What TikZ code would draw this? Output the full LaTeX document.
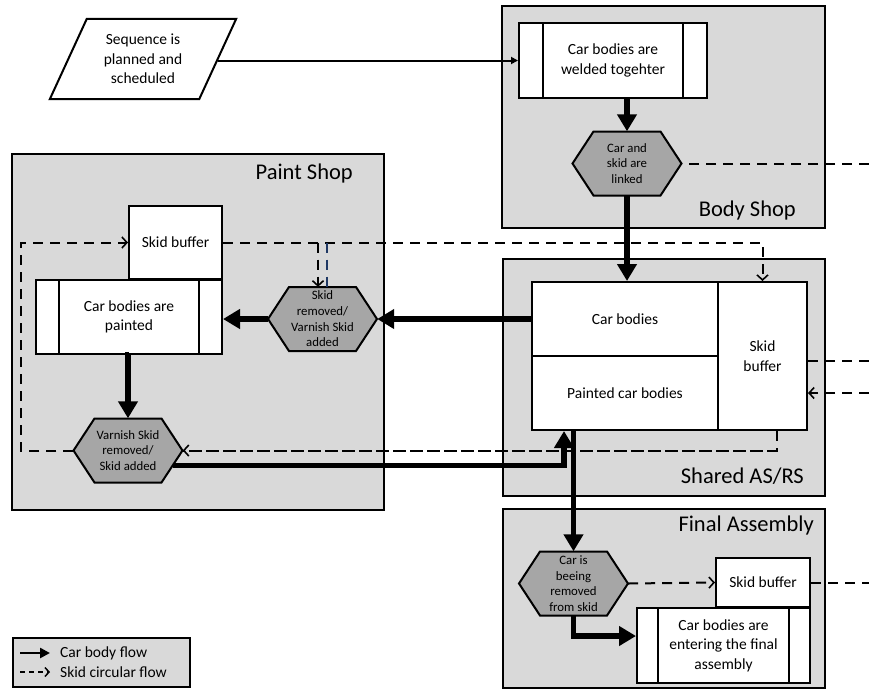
\documentclass[tikz,border=0pt]{standalone}
\usepackage{fontspec}
\setmainfont{Carlito}
\usetikzlibrary{arrows.meta,calc}
\definecolor{areagray}{HTML}{D9D9D9}
\definecolor{hexgray}{HTML}{A6A6A6}
\definecolor{navyline}{HTML}{1F3864}
\newcommand\hexnode[4]{%
  \filldraw[hexshape] ({#2-54.5},{#3}) -- ({#2-33.5},{#3-32}) -- ({#2+33.5},{#3-32})
    -- ({#2+54.5},{#3}) -- ({#2+33.5},{#3+32}) -- ({#2-33.5},{#3+32}) -- cycle;
  \node[hexbox] (#1) at (#2,#3) {#4};}
\tikzset{
  area/.style={draw=black, line width=2, fill=areagray, inner sep=0},
  areatitle/.style={anchor=east, inner sep=0, font=\fontsize{22.5}{26}\selectfont},
  plainbox/.style={draw=black, line width=2, fill=white, inner sep=1, align=center,
    font=\fontsize{15.5}{19.5}\selectfont},
  procbox/.style={plainbox, path picture={
    \draw[line width=2] ([xshift=#1]path picture bounding box.north west) -- ([xshift=#1]path picture bounding box.south west);
    \draw[line width=2] ([xshift=-#1]path picture bounding box.north east) -- ([xshift=-#1]path picture bounding box.south east);}},
  hexshape/.style={draw=black, line width=2, fill=hexgray},
  hexbox/.style={minimum width=109, minimum height=64, inner sep=0, align=center,
    font=\fontsize{12.8}{15.7}\selectfont},
  carflow/.style={line width=5.5, -{Triangle[length=17,width=19]}},
  thinflow/.style={line width=2, -{Triangle[length=7,width=7]}},
  skidline/.style={line width=2, dash pattern=on 10 off 7},
  skidflow/.style={skidline, -{Straight Barb[length=5,width=11,line width=1.6]}},
  blueline/.style={line width=2, dash pattern=on 10 off 7, draw=navyline},
  legtext/.style={anchor=west, inner sep=0, font=\fontsize{15.5}{19}\selectfont},
}
\begin{document}
\begin{tikzpicture}[x=1pt, y=-1pt]
\useasboundingbox (0,0) rectangle (869,689);

% areas
\node[area, minimum width=323, minimum height=222] (bodyshop) at (663.5,117) {};
\node[area, minimum width=372, minimum height=356] (paintshop) at (198,332) {};
\node[area, minimum width=322, minimum height=237] (asrs) at (664,377.5) {};
\node[area, minimum width=322, minimum height=179] (finalasm) at (664,598.5) {};
\node[area, minimum width=177, minimum height=49] (legend) at (101.5,662.5) {};

\node[areatitle] (bstitle) at (796,210) {Body Shop};
\node[areatitle] (pstitle) at (353,173) {Paint Shop};
\node[areatitle] (astitle) at (804,476) {Shared AS/RS};
\node[areatitle] (fatitle) at (814,525) {Final Assembly};

% sequence parallelogram
\node[minimum width=149, minimum height=80, inner sep=0, align=center,
  font=\fontsize{15.5}{19.5}\selectfont] (seq) at (143,59) {Sequence is\\planned and\\scheduled};
\draw[line width=2] ([xshift=18.5]seq.north west) -- ([xshift=18.5]seq.north east)
  -- ([xshift=-18.5]seq.south east) -- ([xshift=-18.5]seq.south west) -- cycle;

% boxes
\node[procbox=24, minimum width=188, minimum height=75] (weld) at (613,60.5) {Car bodies are\\welded togehter};
\node[procbox=23, minimum width=186, minimum height=74] (paint) at (129,317) {Car bodies are\\painted};
\node[plainbox, minimum width=93, minimum height=73] (psb) at (175.5,242.5) {Skid buffer};
\node[plainbox, minimum width=186, minimum height=74] (cb) at (625,319) {Car bodies};
\node[plainbox, minimum width=186, minimum height=74] (pcb) at (625,393) {Painted car bodies};
\node[plainbox, minimum width=89, minimum height=148] (sb) at (762.5,356) {Skid\\buffer};
\node[plainbox, minimum width=94, minimum height=49] (fasb) at (763,582.5) {Skid buffer};
\node[procbox=21, minimum width=173, minimum height=75] (enter) at (723.5,645.5) {Car bodies are\\entering the final\\assembly};

% free ends at the right border
\coordinate (inBS) at (869,163.5);
\coordinate (outAS) at (869,361);
\coordinate (inAS) at (869,393);
\coordinate (outFA) at (869,582.5);

% skid flow (dashed)
\draw[skidflow] (psb.east) -| (sb.north);
\draw[skidline] ([xshift=14.5]sb.south) |- (128,450.5);
\draw[skidflow] (inBS) -- (627,163.5);

% hexagons
\hexnode{h1}{627}{163.5}{Car and\\skid are\\linked}
\hexnode{h2}{322.5}{319}{Skid\\removed/\\Varnish Skid\\added}
\hexnode{h3}{128}{450.5}{Varnish Skid\\removed/\\Skid added}
\hexnode{h4}{573.5}{583.5}{Car is\\beeing\\removed\\from skid}

\draw[skidflow] (h3.west) -- ++(-52,0) |- (psb.west);
\draw[skidflow] (h3.east -| sb.south) ++(14.5,0) -- (h3.east);
\draw[skidflow] ([xshift=-4.5]h2.north |- psb.east) -- ([xshift=-4.5]h2.north);
\draw[blueline] ([xshift=4.5]h2.north |- psb.east) -- ([xshift=4.5]h2.north);
\draw[skidline] ([yshift=-5]sb.east) -- (outAS);
\draw[skidflow] (inAS) -- (inAS -| sb.east);
\draw[skidflow] (h4.east) -- (fasb.west);
\draw[skidline] (fasb.east) -- (outFA);

% car body flow
\draw[thinflow] (seq.east |- weld.west) -- (weld.west);
\draw[carflow] (weld.south -| h1.north) -- (h1.north);
\draw[carflow] (h1.south) -- (h1.south |- cb.north);
\draw[carflow] (cb.west) -- (cb.west -| h2.east);
\draw[carflow] (h2.west) -- (h2.west -| paint.east);
\draw[carflow] (paint.south) -- (paint.south -| h3.north) -- (h3.north);
\draw[carflow] ($(h3.east)+(-10,15)$) -| ([xshift=-61]pcb.south);
\draw[carflow] (h4.north |- pcb.south) -- (h4.north);
\draw[carflow] (h4.south) |- ([yshift=9.5]enter.west);

% legend
\node[legtext] (legA) at (60,653) {Car body flow};
\node[legtext] (legB) at (60,672) {Skid circular flow};
\draw[line width=2.8, -{Triangle[length=10,width=10]}] ([xshift=-40]legA.west) -- ([xshift=-10]legA.west);
\draw[line width=1.8, dash pattern=on 5 off 4, -{Straight Barb[length=4,width=9,line width=1.5]}] ([xshift=-40]legB.west) -- ([xshift=-10]legB.west);
\end{tikzpicture}
\end{document}
